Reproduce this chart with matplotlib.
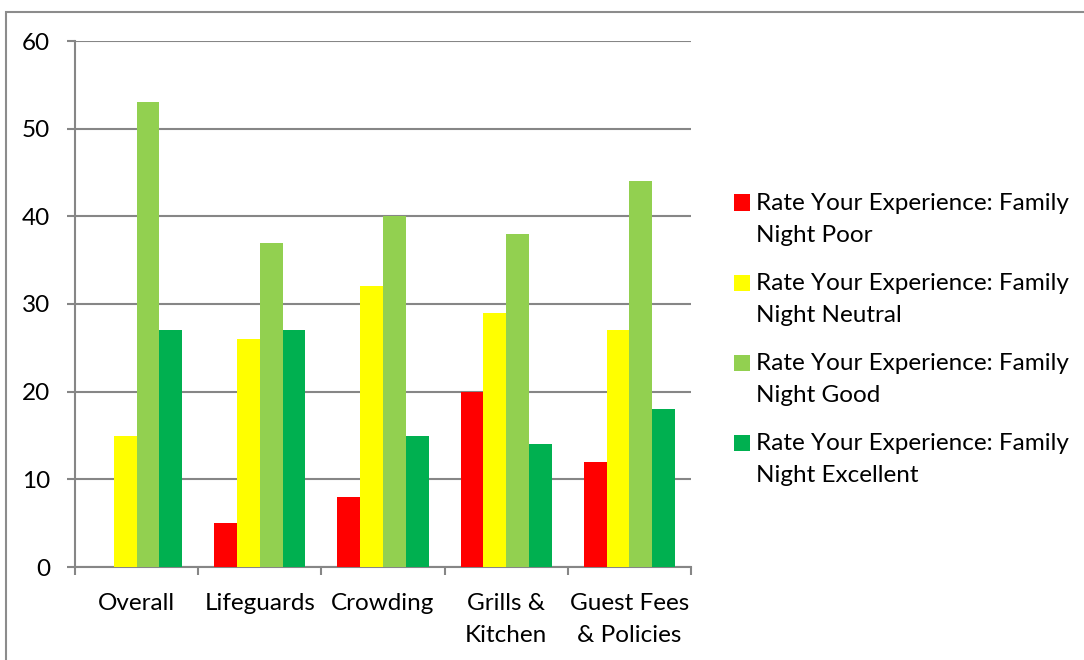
import matplotlib
matplotlib.use("Agg")
import matplotlib.pyplot as plt
import matplotlib.patches as mpatches
import numpy as np

categories = ["Overall", "Lifeguards", "Crowding", "Grills &\nKitchen", "Guest Fees\n& Policies"]
series_names = [
    "Rate Your Experience: Family\nNight Poor",
    "Rate Your Experience: Family\nNight Neutral",
    "Rate Your Experience: Family\nNight Good",
    "Rate Your Experience: Family\nNight Excellent",
]
poor = [0, 5, 8, 20, 12]
neutral = [15, 26, 32, 29, 27]
good = [53, 37, 40, 38, 44]
excellent = [27, 27, 15, 14, 18]
colors = ["#FF0000", "#FFFF00", "#92D050", "#00B050"]
yticks = [0, 10, 20, 30, 40, 50, 60]

plt.rcParams['font.family'] = ['Lato', 'DejaVu Sans']
FS = 17.5
W, H = 1084, 660

fig = plt.figure(figsize=(W / 100, H / 100), dpi=100)
ax = fig.add_axes([75/W, 1-567/H, 616/W, 526/H])

x = np.arange(len(categories))
bw = 0.185
data = [poor, neutral, good, excellent]
for i, (vals, c, name) in enumerate(zip(data, colors, series_names)):
    ax.bar(x + (i - 1.5) * bw, vals, width=bw, color=c, label=name, zorder=3)

gc = "#868686"
ax.set_ylim(0, 60)
ax.set_xlim(-0.5, len(categories) - 0.5)
ax.set_yticks(yticks)
ax.yaxis.grid(True, color=gc, linewidth=1.5, zorder=0)
for s in ["top", "right"]:
    ax.spines[s].set_visible(False)
for s in ["left", "bottom"]:
    ax.spines[s].set_color(gc)
    ax.spines[s].set_linewidth(1.5)

ax.set_xticks(x)
ax.set_xticklabels(categories)
for t in ax.get_xticklabels():
    t.set_linespacing(1.6)
ax.set_xticks(np.arange(len(categories) + 1) - 0.5, minor=True)
ax.tick_params(axis='x', which='major', length=0, pad=19, labelsize=FS)
ax.tick_params(axis='x', which='minor', length=6, width=1.5, color=gc, direction='out')
ax.tick_params(axis='y', which='major', length=6, width=1.5, color=gc, pad=12, labelsize=FS)

# legend (manual, handles aligned with the first text line)
handles, labels = ax.get_legend_handles_labels()
first_y = [202.5, 282.5, 362.5, 442.5]
for h, lab, yc in zip(handles, labels, first_y):
    fc = h.patches[0].get_facecolor()
    fig.patches.append(mpatches.Rectangle((734/W, 1-(yc+8)/H), 16/W, 16/H,
                                          transform=fig.transFigure, facecolor=fc,
                                          edgecolor='none'))
    for k, line in enumerate(lab.split("\n")):
        fig.text(756/W, 1-(yc + k*32 + 1)/H, line, fontsize=FS, va='center', ha='left')

border = mpatches.Rectangle((6/W, -0.1), 1.2, (1 - 12/H) + 0.1,
                            transform=fig.transFigure, fill=False,
                            edgecolor="#8c8c8c", linewidth=1.5)
fig.patches.append(border)

fig.savefig("out.png", dpi=100)
